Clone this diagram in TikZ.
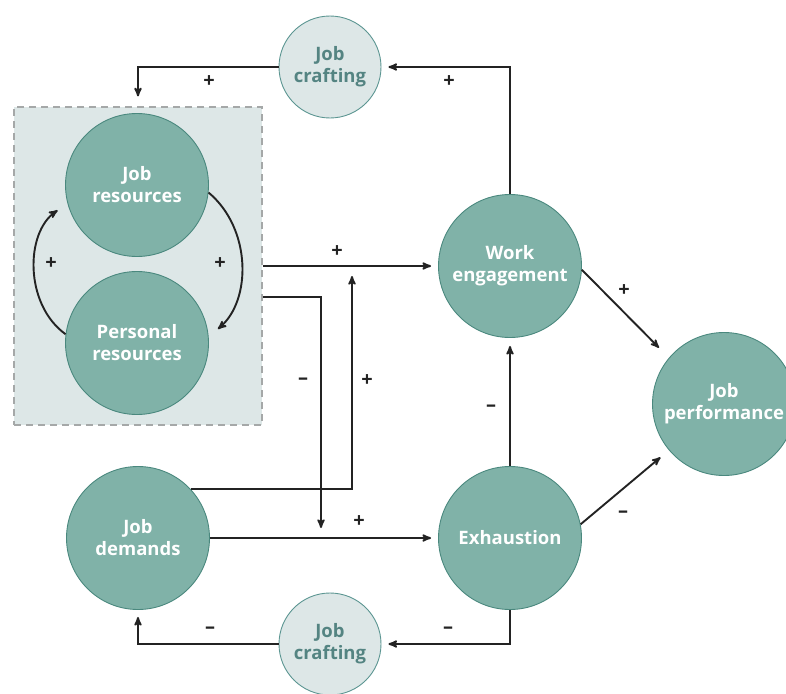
\documentclass[tikz,border=0pt]{standalone}
\usepackage{fontspec}
\setmainfont{Open Sans}
\usetikzlibrary{arrows, shapes.geometric, fit}
\definecolor{vertfonce}{RGB}{128,178,168}
\definecolor{bordfonce}{RGB}{74,136,126}
\definecolor{fondclair}{RGB}{221,231,231}
\definecolor{bordclair}{RGB}{92,150,146}
\definecolor{texteclair}{RGB}{84,132,130}
\definecolor{grisbord}{RGB}{165,168,168}
\definecolor{noir}{RGB}{35,35,35}

\begin{document}
\begin{tikzpicture}[x=1pt, y=-1pt, >=stealth',
    rond/.style={circle, draw=bordfonce, fill=vertfonce, line width=0.9pt, minimum size=143pt, inner sep=0pt,
        text=white, align=center, font=\bfseries\fontsize{18.5}{22}\selectfont},
    petit/.style={circle, draw=bordclair, fill=fondclair, line width=0.9pt, minimum size=102pt, inner sep=0pt,
        text=texteclair, align=center, font=\bfseries\fontsize{18.5}{22}\selectfont},
    fleche/.style={->, draw=noir, line width=1.9pt},
    signe/.style={text=noir, font=\bfseries\fontsize{20}{20}\selectfont}]
        \useasboundingbox (0,0) rectangle (786,693);

        % Cadre des ressources (pointillé)
        \node[draw=grisbord, fill=fondclair, line width=1.2pt, dash pattern=on 7pt off 5pt,
              minimum width=248pt, minimum height=318pt] (box) at (138,266) {};

        % Cercles principaux
        \node[rond] (jr) at (137,185) {Job\\resources};
        \node[rond] (pr) at (137,343) {Personal\\resources};
        \node[rond] (jd) at (138,538) {Job\\demands};
        \node[rond] (we) at (510,266) {Work\\engagement};
        \node[rond] (ex) at (510,538) {Exhaustion};
        \node[rond] (jp) at (724,404) {Job\\performance};
        \node[petit] (jc1) at (330,67) {Job\\crafting};
        \node[petit] (jc2) at (330,644) {Job\\crafting};

        % Points de jonction sur les flèches
        \coordinate (pA) at (352,266);
        \coordinate (pB) at (321,538);

        % Boucles de job crafting
        \draw[fleche, shorten >=7pt] (we.north) |- (jc1.east);
        \draw[fleche, shorten >=10pt] (jc1.west) -| (box.north);
        \draw[fleche, shorten >=7pt] (ex.south) |- (jc2.east);
        \draw[fleche, shorten >=7pt] (jc2.west) -| (jd.south);

        % Ressources réciproques
        \draw[fleche, shorten >=12pt] (pr.173) to[bend left=55] (jr.195);
        \draw[fleche, shorten >=12pt] (jr.-6) to[bend left=50] (pr.5);

        % Flèches centrales
        \draw[fleche, shorten >=7pt] (box.east) -- (we.west);
        \draw[fleche, shorten >=10pt] ([yshift=-31pt]box.east) -| (pB);
        \draw[fleche, shorten >=10pt] (jd.43) -| (pA);
        \draw[fleche, shorten >=7pt] (jd.east) -- (ex.west);
        \draw[fleche, shorten >=8pt] (ex.north) -- (we.south);
        \draw[fleche, shorten >=14pt] (we.-3) -- (jp.140);
        \draw[fleche, shorten >=11pt] (ex.11) -- (jp.220);

        % Signes
        \node[signe] (s1) at (209,82) {+};
        \node[signe] (s2) at (449,82) {+};
        \node[signe] (s3) at (51,264) {+};
        \node[signe] (s4) at (220,264) {+};
        \node[signe] (s5) at (337,252) {+};
        \node[signe] (s6) at (303,381) {--};
        \node[signe] (s7) at (367,381) {+};
        \node[signe] (s8) at (359,522) {+};
        \node[signe] (s9) at (491,408) {--};
        \node[signe] (s10) at (624,291) {+};
        \node[signe] (s11) at (623,514) {--};
        \node[signe] (s12) at (448,630) {--};
        \node[signe] (s13) at (210,630) {--};
\end{tikzpicture}
\end{document}
